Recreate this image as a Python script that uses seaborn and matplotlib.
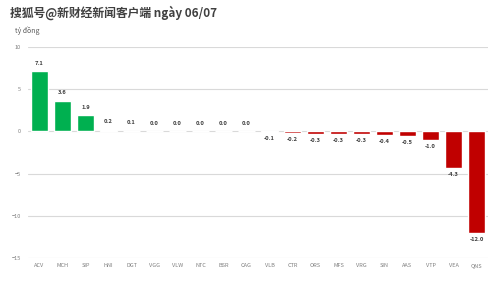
import matplotlib
matplotlib.use("Agg")
import matplotlib.pyplot as plt
import seaborn as sns
import pandas as pd

tickers = ["ACV", "MCH", "SIP", "HNI", "DGT", "VGG", "VLW", "NTC", "BSR", "CAG",
           "VLB", "CTR", "ORS", "MFS", "VRG", "SIN", "AAS", "VTP", "VEA", "QNS"]
values = [7.1, 3.6, 1.9, 0.2, 0.1, 0.0, 0.0, 0.0, 0.0, 0.0,
          -0.1, -0.2, -0.3, -0.3, -0.3, -0.4, -0.5, -1.0, -4.3, -12.0]
title = "搜狐号@新财经新闻客户端 ngày 06/07"
unit = "tỷ đồng"

sns.set_theme(style="white")
plt.rcParams['font.family'] = ['Noto Sans CJK SC', 'DejaVu Sans']

green = "#00B050"
red = "#C00000"
colors = [green if (v > 0 or (v == 0 and i < 10)) else red for i, v in enumerate(values)]

df = pd.DataFrame({"ticker": tickers, "value": values})

fig = plt.figure(figsize=(4.99, 2.83), dpi=100)
ax = fig.add_axes([0.056, 0.088, 0.922, 0.746])
sns.barplot(data=df, x="ticker", y="value", hue="ticker", palette=colors,
            legend=False, width=0.75, saturation=1, ax=ax)

ax.set_ylim(-15, 10)
ax.set_xlim(-0.5, len(tickers) - 0.5)
ax.set_yticks([10, 5, 0, -5, -10, -15])
ax.yaxis.grid(True, color="#D9D9D9", linewidth=0.8)
ax.set_axisbelow(True)
for s in ax.spines.values():
    s.set_visible(False)
ax.tick_params(axis="y", length=0, labelsize=4, labelcolor="#7F7F7F", pad=5)
ax.tick_params(axis="x", length=0, labelsize=4, labelcolor="#7F7F7F", pad=3.5)
ax.set_xlabel("")
ax.set_ylabel("")

for i, v in enumerate(values):
    if colors[i] == green:
        ax.annotate(f"{v:.1f}", (i, v), xytext=(0, 4), textcoords="offset points",
                    ha="center", va="bottom", fontsize=4.2, fontweight="bold", color="#404040")
    else:
        ax.annotate(f"{v:.1f}", (i, v), xytext=(0, -3), textcoords="offset points",
                    ha="center", va="top", fontsize=4.2, fontweight="bold", color="#404040")

fig.text(0.02, 0.955, title, fontsize=8.5, fontweight="bold", color="#404040",
         ha="left", va="center")
fig.text(0.03, 0.893, unit, fontsize=5, color="#595959", ha="left", va="center")

fig.savefig("out.png", dpi=100, facecolor="white")
